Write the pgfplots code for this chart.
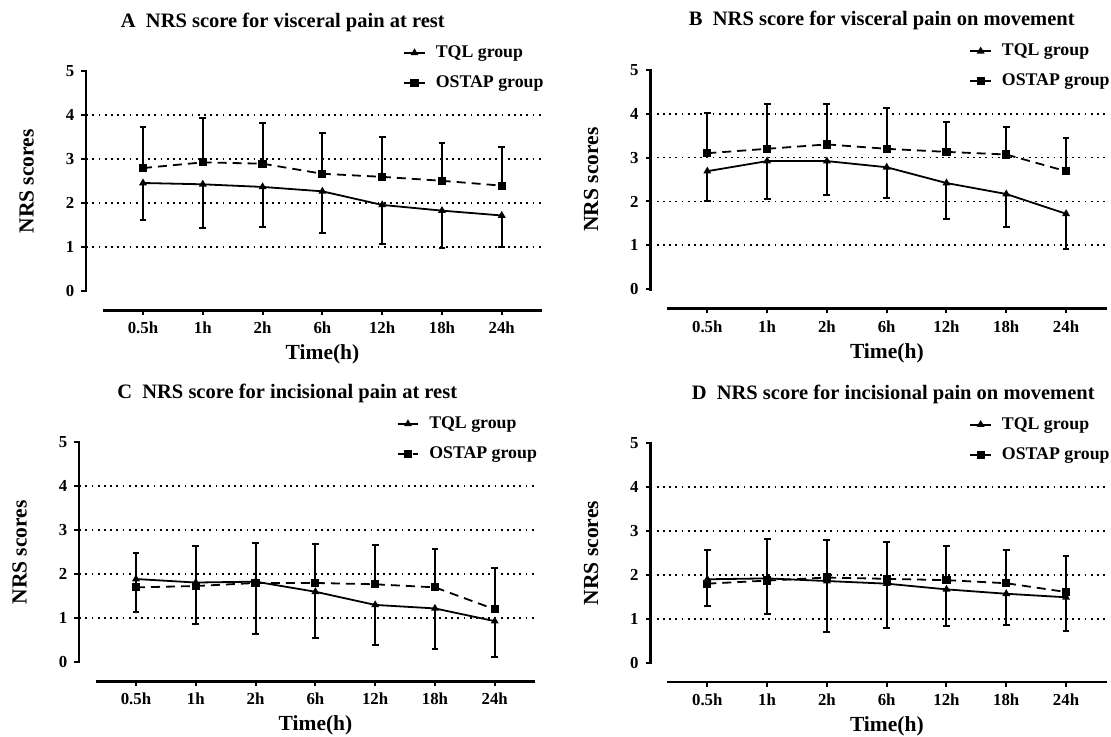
\documentclass[border=0pt]{standalone}
\usepackage{fontspec}
\setmainfont{Liberation Serif}
\usepackage{pgfplots}
\usepackage{pgfplotstable}
\pgfplotsset{compat=1.18}

% columns: time index, mean, SD
\pgfplotstableread{
x m s
0 2.46 0.84
1 2.43 1.00
2 2.37 0.92
3 2.27 0.94
4 1.96 0.88
5 1.83 0.86
6 1.72 0.72
}\Atql
\pgfplotstableread{
x m s
0 2.80 0.93
1 2.93 1.02
2 2.90 0.93
3 2.67 0.93
4 2.60 0.91
5 2.51 0.86
6 2.40 0.87
}\Aostap
\pgfplotstableread{
x m s
0 2.69 0.69
1 2.92 0.87
2 2.92 0.78
3 2.78 0.70
4 2.42 0.81
5 2.17 0.75
6 1.72 0.81
}\Btql
\pgfplotstableread{
x m s
0 3.10 0.92
1 3.20 1.03
2 3.30 0.92
3 3.20 0.92
4 3.13 0.68
5 3.07 0.63
6 2.69 0.76
}\Bostap
\pgfplotstableread{
x m s
0 1.89 0.75
1 1.81 0.94
2 1.83 1.20
3 1.60 1.06
4 1.30 0.91
5 1.22 0.92
6 0.93 0.82
}\Ctql
\pgfplotstableread{
x m s
0 1.70 0.79
1 1.73 0.91
2 1.80 0.92
3 1.80 0.89
4 1.77 0.90
5 1.70 0.87
6 1.20 0.93
}\Costap
\pgfplotstableread{
x m s
0 1.90 0.61
1 1.92 0.82
2 1.86 1.15
3 1.80 1.02
4 1.67 0.84
5 1.57 0.72
6 1.49 0.76
}\Dtql
\pgfplotstableread{
x m s
0 1.80 0.77
1 1.87 0.95
2 1.94 0.86
3 1.91 0.84
4 1.88 0.77
5 1.81 0.76
6 1.61 0.81
}\Dostap

\pgfplotsset{
  prism/.style={
    scale only axis, width=228.1pt, height=119.4pt,
    xmin=-0.95, xmax=6.68, ymin=-0.44, ymax=5,
    clip=false,
    axis x line*=bottom, axis y line*=left,
    axis line style={draw=none},
    xtick={0,...,6}, xticklabels={0.5h,1h,2h,6h,12h,18h,24h},
    ytick={0,...,5},
    extra y ticks={1,2,3,4}, extra y tick labels={},
    extra y tick style={grid=major, major tick length=0pt},
    major grid style={black, line width=0.9pt, dash pattern=on 0.9pt off 2.2pt},
    tick align=outside, major tick length=2.4pt,
    every tick/.style={black, line width=1pt},
    tick label style={font=\fontsize{8.4}{10}\selectfont\bfseries},
    /pgf/number format/assume math mode=true,
    xlabel={Time(h)}, ylabel={NRS scores},
    label style={font=\fontsize{10.75}{12}\selectfont\bfseries},
    xlabel style={at={(axis description cs:0.518,-0.207)}, anchor=base},
    ylabel style={at={(axis description cs:-0.115,0.54)}, anchor=base},
    title style={font=\fontsize{10.25}{12}\selectfont\bfseries, anchor=base, yshift=-6pt},
    legend cell align=left,
    legend style={anchor=north west, draw=none, fill=none, inner sep=0pt,
      font=\fontsize{8.9}{10}\selectfont\bfseries, row sep=6.5pt,
      nodes={inner sep=0pt, text height=6.5pt, text depth=2pt},
      /tikz/every odd column/.append style={column sep=5pt}},
    legend image code/.code={\draw[mark repeat=2,mark phase=2,##1]
      plot coordinates {(0pt,0pt) (5.2pt,0pt) (10.4pt,0pt)};},
  },
  tql/.style={black, line width=0.9pt, mark=triangle*, mark size=1.4pt,
    error bars/.cd, y dir=minus, y explicit,
    error bar style={line width=1pt},
    error mark options={rotate=90, black, line width=1pt, mark size=1.7pt}},
  ostap/.style={black, line width=0.9pt, dash pattern=on 4.5pt off 3pt,
    mark=square*, mark size=1.6pt, mark options={solid},
    error bars/.cd, y dir=plus, y explicit,
    error bar style={solid, line width=1pt},
    error mark options={rotate=90, solid, black, line width=1pt, mark size=1.7pt}},
}

\newcommand{\axlines}{%
  \draw[line width=1.25pt, line cap=rect] (axis cs:-0.95,0) -- (axis cs:-0.95,5);
  \draw[line width=1.25pt] (axis cs:-0.674,-0.44) -- (axis cs:6.68,-0.44);
}

\begin{document}
\begin{tikzpicture}
\useasboundingbox (0,0) rectangle (555.5pt,368.5pt);

\begin{axis}[prism, at={(43.1pt,213.35pt)}, anchor=south west,
  title={A\hspace{0.5em}NRS score for visceral pain at rest},
  title style={at={(axis description cs:0.431,1.185)}},
  legend style={at={(axis description cs:0.694,1.115)}}]
  \addplot[tql] table[x=x, y=m, y error=s] {\Atql};
  \addplot[ostap] table[x=x, y=m, y error=s] {\Aostap};
  \legend{TQL group, OSTAP group}
  \axlines
\end{axis}

\begin{axis}[prism, at={(325.25pt,214.2pt)}, anchor=south west,
  title={B\hspace{0.5em}NRS score for visceral pain on movement},
  title style={at={(axis description cs:0.507,1.185)}},
  legend style={at={(axis description cs:0.698,1.115)}}]
  \addplot[tql] table[x=x, y=m, y error=s] {\Btql};
  \addplot[ostap] table[x=x, y=m, y error=s] {\Bostap};
  \legend{TQL group, OSTAP group}
  \axlines
\end{axis}

\begin{axis}[prism, at={(39.6pt,27.85pt)}, anchor=south west,
  title={C\hspace{0.5em}NRS score for incisional pain at rest},
  title style={at={(axis description cs:0.456,1.185)}},
  legend style={at={(axis description cs:0.695,1.115)}}]
  \addplot[tql] table[x=x, y=m, y error=s] {\Ctql};
  \addplot[ostap] table[x=x, y=m, y error=s] {\Costap};
  \legend{TQL group, OSTAP group}
  \axlines
\end{axis}

\begin{axis}[prism, at={(325.25pt,27.5pt)}, anchor=south west,
  title={D\hspace{0.5em}NRS score for incisional pain on movement},
  title style={at={(axis description cs:0.532,1.185)}},
  legend style={at={(axis description cs:0.698,1.115)}}]
  \addplot[tql] table[x=x, y=m, y error=s] {\Dtql};
  \addplot[ostap] table[x=x, y=m, y error=s] {\Dostap};
  \legend{TQL group, OSTAP group}
  \axlines
\end{axis}
\end{tikzpicture}
\end{document}
